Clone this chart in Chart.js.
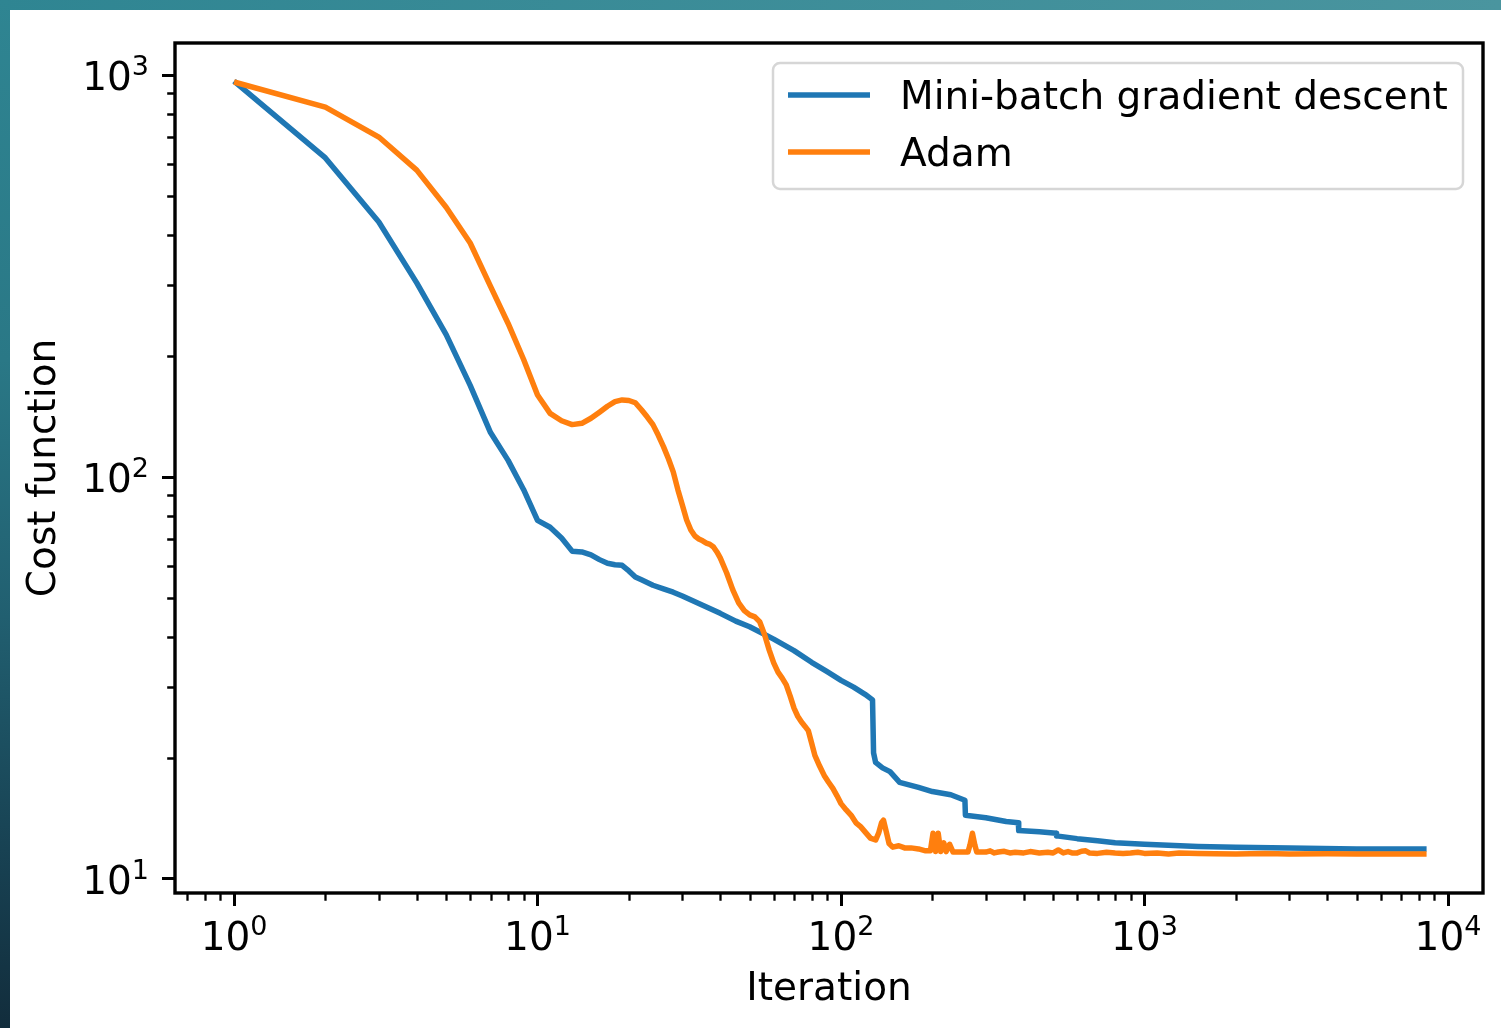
<!DOCTYPE html>
<html>
<head>
<meta charset="utf-8">
<title>Cost function vs iteration</title>
<script src="https://cdn.jsdelivr.net/npm/chart.js@4.4.1/dist/chart.umd.min.js"></script>
<style>
    html, body { margin: 0; padding: 0; background: #fff; }
    body { width: 1501px; height: 1028px; position: relative; overflow: hidden; }
    .strip-top { position: absolute; left: 0; top: 0; width: 1501px; height: 10px;
        background: linear-gradient(to right, #2f8592, #4a959f); }
    .strip-left { position: absolute; left: 0; top: 0; width: 10px; height: 1028px;
        background: linear-gradient(to bottom, #2f8592 0%, #2a7886 35%, #215f70 60%, #173f50 85%, #122d3c 100%); }
    #wrap { position: absolute; left: 0; top: 0; width: 1501px; height: 1028px; }
</style>
</head>
<body>
<div class="strip-top"></div>
<div class="strip-left"></div>
<div id="wrap"><canvas id="cost-chart"></canvas></div>
<script>
// Mini-batch gradient descent
const gdIter = [1, 2, 3, 4, 5, 6, 7, 8, 9, 10, 11, 12, 13, 14, 15, 16, 17, 18, 19, 20, 21, 22,
    24, 26, 28, 30, 35, 40, 45, 50, 60, 70, 80, 90, 100, 110, 120, 127, 128, 130, 137, 145, 156,
    180, 200, 230, 256, 257, 300, 350, 384, 385, 450, 512, 513, 600, 700, 800, 1000, 1500, 2000,
    3000, 5000, 8500];
const gdCost = [966, 622, 431, 304, 226, 169, 129, 110, 93, 78, 75, 70.5, 65.4, 65.1, 64, 62.3,
    61, 60.5, 60.3, 58.4, 56.4, 55.5, 53.8, 52.7, 51.7, 50.6, 48, 45.8, 43.8, 42.4, 39.5, 37,
    34.6, 32.8, 31.2, 30, 28.8, 27.9, 20.6, 19.5, 18.9, 18.5, 17.4, 16.9, 16.5, 16.2, 15.7, 14.4,
    14.2, 13.9, 13.8, 13.2, 13.1, 13.0, 12.8, 12.6, 12.45, 12.3, 12.2, 12.05, 12.0, 11.94, 11.88,
    11.88];

// Adam
const adamIter = [1, 2, 3, 4, 5, 6, 7, 8, 9, 10, 11, 12, 13, 14, 15, 16, 17, 18, 19, 20, 21, 22,
    23, 24, 25, 26, 27, 28, 29, 30, 31, 32, 33, 34, 35, 36, 37, 38, 39, 40, 42, 44, 46, 48, 50,
    52, 54, 56, 58, 60, 62, 64, 66, 68, 70, 72, 74, 76, 78, 80, 82, 85, 88, 91, 94, 97, 100, 104,
    108, 112, 116, 120, 125, 130, 133, 136, 138, 141, 144, 148, 155, 162, 170, 180, 190, 197, 201,
    205, 209, 213, 218, 222, 228, 234, 245, 262, 266, 271, 276, 280, 284, 300, 310, 320, 330, 345,
    360, 375, 400, 420, 450, 480, 500, 520, 540, 560, 580, 600, 620, 640, 660, 700, 750, 800, 850,
    900, 950, 1000, 1100, 1200, 1300, 1500, 1700, 2000, 2500, 3000, 4000, 5000, 8500];
const adamCost = [961, 832, 701, 580, 469, 382, 298, 241, 196, 160, 144, 138, 135, 136, 140, 145,
    150, 154, 155.5, 155, 153, 147, 141, 135, 127, 119, 111, 103, 93, 85.2, 78.2, 73.8, 71.3, 70.1,
    69.4, 68.5, 68, 67, 65.1, 62.9, 57.7, 52.4, 48.6, 46.5, 45.4, 44.9, 43.6, 40.5, 37.1, 34.5,
    32.7, 31.6, 30.4, 28.5, 26.6, 25.4, 24.6, 24.0, 23.4, 21.8, 20.3, 19.1, 18.1, 17.4, 16.8, 16.1,
    15.4, 14.85, 14.4, 13.8, 13.5, 13.1, 12.64, 12.5, 13.0, 13.8, 14.0, 13.1, 12.25, 12.0, 12.1,
    11.95, 11.95, 11.88, 11.75, 11.75, 13.0, 11.7, 13.0, 11.7, 12.3, 11.7, 12.2, 11.67, 11.67,
    11.67, 12.15, 13.0, 12.15, 11.67, 11.67, 11.67, 11.75, 11.61, 11.67, 11.72, 11.61, 11.66,
    11.61, 11.7, 11.61, 11.66, 11.61, 11.81, 11.61, 11.7, 11.6, 11.61, 11.72, 11.75, 11.6, 11.58,
    11.66, 11.61, 11.58, 11.61, 11.66, 11.58, 11.6, 11.54, 11.6, 11.58, 11.55, 11.54, 11.57, 11.54,
    11.55, 11.54, 11.54];

const seriesNames = ['Mini-batch gradient descent', 'Adam'];

// Axes: tick labels as [base, exponent]
const xTickValues = [1, 10, 100, 1000, 10000];
const xTickLabels = [['10', '0'], ['10', '1'], ['10', '2'], ['10', '3'], ['10', '4']];
const yTickValues = [10, 100, 1000];
const yTickLabels = [['10', '1'], ['10', '2'], ['10', '3']];
const xRange = [0.639, 13040];
const yRange = [9.229, 1201.4];

const BLUE = '#1f77b4';
const ORANGE = '#ff7f0e';
const FONT_SIZE = 39;
const SUP_SIZE = 27;
const FONT_NAME = "'DejaVu Sans', sans-serif";

Chart.defaults.font.family = FONT_NAME;
Chart.defaults.font.size = FONT_SIZE;
Chart.defaults.color = '#000';

function toPoints(xs, ys) {
    return xs.map((v, i) => ({ x: v, y: ys[i] }));
}

// minor ticks 2..9 per decade, inside the axis range
function minorValues(min, max) {
    const out = [];
    for (let d = Math.floor(Math.log10(min)); d <= Math.ceil(Math.log10(max)); d++) {
        for (let m = 2; m <= 9; m++) {
            const v = m * Math.pow(10, d);
            if (v >= min && v <= max) out.push(v);
        }
    }
    return out;
}

// draws "10" + raised exponent; anchor = 'center' or 'right'
function drawPowerLabel(ctx, parts, x, baseline, anchor) {
    ctx.font = FONT_SIZE + 'px ' + FONT_NAME;
    const wBase = ctx.measureText(parts[0]).width;
    ctx.font = SUP_SIZE + 'px ' + FONT_NAME;
    const wSup = ctx.measureText(parts[1]).width;
    const total = wBase + wSup;
    const left = anchor === 'center' ? x - total / 2 : x - total;
    ctx.font = FONT_SIZE + 'px ' + FONT_NAME;
    ctx.fillText(parts[0], left, baseline);
    ctx.font = SUP_SIZE + 'px ' + FONT_NAME;
    ctx.fillText(parts[1], left + wBase, baseline - 15);
}

// frame, minor ticks, tick labels and legend box (matplotlib style)
const framePlugin = {
    id: 'frame',
    afterDraw(chart) {
        const { ctx, chartArea: a } = chart;
        const xs = chart.scales.x;
        const ys = chart.scales.y;
        ctx.save();

        ctx.strokeStyle = '#000';
        ctx.lineWidth = 2.3;
        ctx.beginPath();
        minorValues(xs.min, xs.max).forEach(v => {
            const px = Math.round(xs.getPixelForValue(v)) + 0.5;
            ctx.moveTo(px, a.bottom);
            ctx.lineTo(px, a.bottom + 7.8);
        });
        minorValues(ys.min, ys.max).forEach(v => {
            const py = Math.round(ys.getPixelForValue(v)) + 0.5;
            ctx.moveTo(a.left, py);
            ctx.lineTo(a.left - 7.8, py);
        });
        ctx.stroke();

        ctx.lineWidth = 3.4;
        ctx.strokeRect(a.left, a.top, a.right - a.left, a.bottom - a.top);

        // tick labels
        ctx.fillStyle = '#000';
        ctx.textBaseline = 'alphabetic';
        ctx.textAlign = 'left';
        xTickValues.forEach((v, i) => {
            drawPowerLabel(ctx, xTickLabels[i], xs.getPixelForValue(v), a.bottom + 57, 'center');
        });
        yTickValues.forEach((v, i) => {
            drawPowerLabel(ctx, yTickLabels[i], a.left - 26, ys.getPixelForValue(v) + 15, 'right');
        });

        // legend
        const lx = 773, ly = 63, lw = 690, lh = 126, r = 7;
        ctx.beginPath();
        ctx.moveTo(lx + r, ly);
        ctx.arcTo(lx + lw, ly, lx + lw, ly + lh, r);
        ctx.arcTo(lx + lw, ly + lh, lx, ly + lh, r);
        ctx.arcTo(lx, ly + lh, lx, ly, r);
        ctx.arcTo(lx, ly, lx + lw, ly, r);
        ctx.closePath();
        ctx.fillStyle = 'rgba(255,255,255,0.8)';
        ctx.fill();
        ctx.strokeStyle = '#d6d6d6';
        ctx.lineWidth = 2.5;
        ctx.stroke();

        ctx.font = FONT_SIZE + 'px ' + FONT_NAME;
        ctx.textBaseline = 'middle';
        ctx.textAlign = 'left';
        chart.data.datasets.forEach((ds, i) => {
            const cy = 95 + i * 57;
            ctx.strokeStyle = ds.borderColor;
            ctx.lineWidth = ds.borderWidth;
            ctx.beginPath();
            ctx.moveTo(788, cy);
            ctx.lineTo(870, cy);
            ctx.stroke();
            ctx.fillStyle = '#000';
            ctx.fillText(ds.label, 900, cy + 4);
        });
        ctx.restore();
    }
};

const ctx = document.getElementById('cost-chart').getContext('2d');
new Chart(ctx, {
    type: 'line',
    data: {
        datasets: [{
            label: seriesNames[0],
            data: toPoints(gdIter, gdCost),
            borderColor: BLUE,
            borderWidth: 5.5,
            pointRadius: 0,
            tension: 0,
            borderJoinStyle: 'round',
            fill: false,
            order: 1
        }, {
            label: seriesNames[1],
            data: toPoints(adamIter, adamCost),
            borderColor: ORANGE,
            borderWidth: 5.5,
            pointRadius: 0,
            tension: 0,
            borderJoinStyle: 'round',
            fill: false,
            order: 0
        }]
    },
    options: {
        responsive: true,
        maintainAspectRatio: false,
        animation: false,
        layout: { padding: { left: 0, top: 43, right: 18, bottom: 0 } },
        plugins: {
            legend: { display: false },
            tooltip: { enabled: false }
        },
        scales: {
            x: {
                type: 'logarithmic',
                bounds: 'data',
                min: xRange[0],
                max: xRange[1],
                afterBuildTicks: s => { s.ticks = xTickValues.map(v => ({ value: v })); },
                afterFit: s => { s.height = 135; },
                ticks: { display: false, autoSkip: false },
                grid: { drawOnChartArea: false, tickLength: 13, tickWidth: 3, tickColor: '#000' },
                border: { display: false },
                title: { display: true, text: 'Iteration', padding: { top: 0, bottom: 15 } }
            },
            y: {
                type: 'logarithmic',
                bounds: 'data',
                min: yRange[0],
                max: yRange[1],
                afterBuildTicks: s => { s.ticks = yTickValues.map(v => ({ value: v })); },
                afterFit: s => { s.width = 175; },
                ticks: { display: false, autoSkip: false },
                grid: { drawOnChartArea: false, tickLength: 13, tickWidth: 3, tickColor: '#000' },
                border: { display: false },
                title: { display: true, text: 'Cost function', padding: { top: 21, bottom: 0 } }
            }
        }
    },
    plugins: [framePlugin]
});
</script>
</body>
</html>
